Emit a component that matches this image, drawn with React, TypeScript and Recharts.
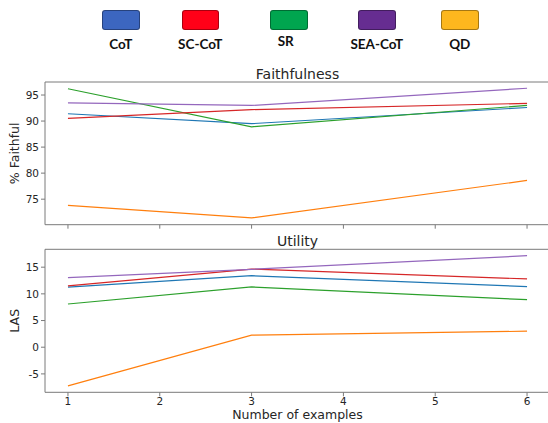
import { Label, Line, LineChart, XAxis, YAxis } from 'recharts';

// x positions that were measured
const examples = [1, 3, 6];
const xTicks = [1, 2, 3, 4, 5, 6];

const methods = ['CoT', 'SC-CoT', 'SR', 'SEA-CoT', 'QD'];
const lineColors = ['#1f77b4', '#d62728', '#2ca02c', '#9467bd', '#ff7f0e'];
const legendColors = ['#3c66c0', '#ff0018', '#00a54f', '#662d91', '#fdb71e'];
// matplotlib draw order (tab10 cycle): blue, orange, green, red, purple
const drawOrder = ['CoT', 'QD', 'SR', 'SC-CoT', 'SEA-CoT'];

const faithCoT = [91.4, 89.5, 92.6];
const faithSCCoT = [90.5, 92.2, 93.4];
const faithSR = [96.2, 88.9, 93.0];
const faithSEACoT = [93.5, 93.0, 96.3];
const faithQD = [73.8, 71.4, 78.6];
const faithTicks = [75, 80, 85, 90, 95];

const lasCoT = [11.25, 13.4, 11.35];
const lasSCCoT = [11.5, 14.65, 12.8];
const lasSR = [8.1, 11.3, 8.9];
const lasSEACoT = [13.05, 14.6, 17.15];
const lasQD = [-7.25, 2.25, 3.0];
const lasTicks = [-5, 0, 5, 10, 15];

const faithRows = examples.map((x, i) => ({
  x,
  CoT: faithCoT[i],
  'SC-CoT': faithSCCoT[i],
  SR: faithSR[i],
  'SEA-CoT': faithSEACoT[i],
  QD: faithQD[i],
}));

const lasRows = examples.map((x, i) => ({
  x,
  CoT: lasCoT[i],
  'SC-CoT': lasSCCoT[i],
  SR: lasSR[i],
  'SEA-CoT': lasSEACoT[i],
  QD: lasQD[i],
}));

const font = 'DejaVu Sans, sans-serif';
const spine = '#7a7a7a';
const textColor = '#262626';

const legendBoxes = [102, 181.5, 270, 358, 441];

function Legend() {
  return (
    <>
      {methods.map((m, i) => (
        <div key={m}>
          <div
            style={{
              position: 'absolute',
              left: legendBoxes[i],
              top: 9.5,
              width: 37.5,
              height: 20.5,
              boxSizing: 'border-box',
              background: legendColors[i],
              border: '1px solid rgba(0,0,0,0.35)',
              borderRadius: 3,
            }}
          />
          <div
            style={{
              position: 'absolute',
              left: legendBoxes[i] + 18.75 - 40 - (m === 'SR' ? 3 : 0),
              top: m === 'SR' ? 33 : 36,
              width: 80,
              textAlign: 'center',
              fontFamily: 'Lato, sans-serif',
              fontWeight: 700,
              fontSize: 13.5,
              lineHeight: '16px',
              color: '#111',
            }}
          >
            {m}
          </div>
        </div>
      ))}
    </>
  );
}

function Panel(props: {
  rows: any[];
  domain: [number, number];
  ticks: number[];
  top: number;
  height: number;
  topGap: number;
  bottomGap: number;
  title: string;
  ylabel: string;
  showTickLabels: boolean;
}) {
  const { rows, domain, ticks, top, height, topGap, bottomGap, title, ylabel, showTickLabels } = props;
  const plotTop = topGap;
  const plotBottom = height - bottomGap;
  return (
    <div style={{ position: 'absolute', left: 0, top }}>
      <LineChart
        width={550}
        height={height}
        data={rows}
        margin={{ top: 0, right: 0, bottom: 0, left: 0 }}
      >
        <XAxis
          xAxisId="top"
          orientation="top"
          dataKey="x"
          type="number"
          domain={[0.75, 6.25]}
          ticks={xTicks}
          height={topGap}
          axisLine={{ stroke: spine, strokeWidth: 1 }}
          tickLine={false}
          tick={() => <g />}
        >
          <Label
            content={() => (
              <text
                x={297.5}
                y={plotTop - 3.5}
                textAnchor="middle"
                fontFamily={font}
                fontSize={14}
                fill={textColor}
              >
                {title}
              </text>
            )}
          />
        </XAxis>
        <XAxis
          dataKey="x"
          type="number"
          domain={[0.75, 6.25]}
          ticks={xTicks}
          height={bottomGap}
          axisLine={{ stroke: spine, strokeWidth: 1 }}
          tickLine={{ stroke: spine }}
          tickSize={4}
          tickMargin={1.5}
          tick={showTickLabels ? { fontSize: 10.5, fill: textColor, fontFamily: font } : () => <g />}
        />
        <YAxis
          type="number"
          domain={domain}
          ticks={ticks}
          width={45}
          allowDataOverflow
          axisLine={{ stroke: spine, strokeWidth: 1 }}
          tickLine={{ stroke: spine }}
          tickSize={4}
          tickMargin={2}
          tick={{ fontSize: 10.5, fill: textColor, fontFamily: font }}
        >
          <Label
            content={() => {
              const cy = (plotTop + plotBottom) / 2;
              return (
                <text
                  x={15}
                  y={cy}
                  transform={`rotate(-90 15 ${cy})`}
                  textAnchor="middle"
                  dominantBaseline="central"
                  fontFamily={font}
                  fontSize={12.5}
                  fill={textColor}
                >
                  {ylabel}
                </text>
              );
            }}
          />
        </YAxis>
        {drawOrder.map((m) => (
          <Line
            key={m}
            dataKey={m}
            stroke={lineColors[methods.indexOf(m)]}
            strokeWidth={1.2}
            dot={false}
            activeDot={false}
            isAnimationActive={false}
          />
        ))}
      </LineChart>
    </div>
  );
}

export default function App() {
  return (
    <div
      style={{
        position: 'fixed',
        left: 0,
        top: 0,
        width: 548,
        height: 423,
        overflow: 'hidden',
        background: '#fff',
      }}
    >
      <Legend />
      <Panel
        rows={faithRows}
        domain={[70.1, 97.5]}
        ticks={faithTicks}
        top={0}
        height={232}
        topGap={82}
        bottomGap={232 - 224.7}
        title="Faithfulness"
        ylabel="% Faithful"
        showTickLabels={false}
      />
      <Panel
        rows={lasRows}
        domain={[-8.45, 18.35]}
        ticks={lasTicks}
        top={228}
        height={195}
        topGap={249.3 - 228}
        bottomGap={195 - (392.3 - 228)}
        title="Utility"
        ylabel="LAS"
        showTickLabels={true}
      />
      <div
        style={{
          position: 'absolute',
          left: 197.5,
          width: 200,
          top: 407,
          textAlign: 'center',
          fontFamily: font,
          fontSize: 12.5,
          lineHeight: '16px',
          color: textColor,
        }}
      >
        Number of examples
      </div>
    </div>
  );
}
